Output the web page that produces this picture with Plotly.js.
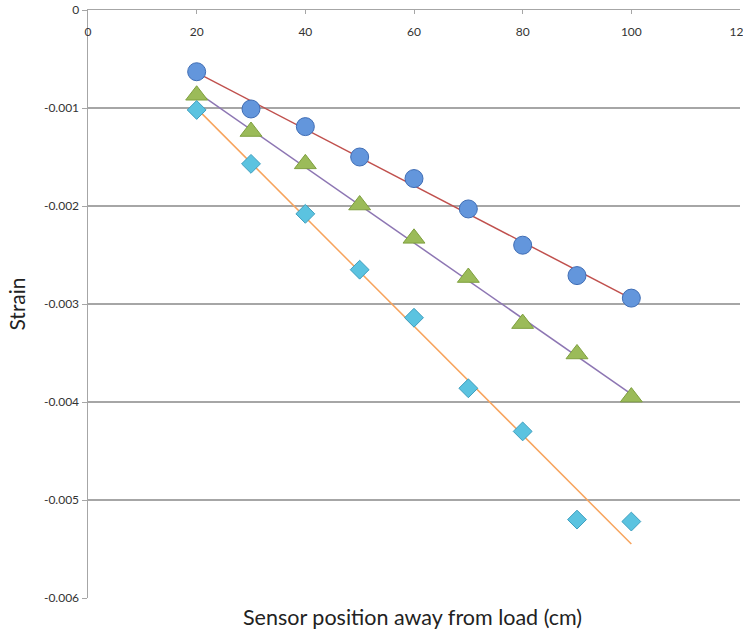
<!DOCTYPE html>
<html><head><meta charset="utf-8">
<script src="https://cdn.plot.ly/plotly-3.0.1.min.js"></script>
<style>html,body{margin:0;padding:0;background:#fff}#chart{width:743px;height:630px}</style>
</head><body><div id="chart"></div>
<script>
const positions = [20, 30, 40, 50, 60, 70, 80, 90, 100];
const strainCircle = [-0.00063, -0.00101, -0.00119, -0.00150, -0.00172, -0.00203, -0.00240, -0.00271, -0.00294];
const strainTriangle = [-0.00087, -0.00124, -0.00157, -0.00199, -0.00233, -0.00273, -0.00320, -0.00351, -0.00395];
const strainDiamond = [-0.00102, -0.00157, -0.00208, -0.00265, -0.00314, -0.00386, -0.00430, -0.00520, -0.00522];
const xTickVals = [0, 20, 40, 60, 80, 100, 120];
const yTickVals = [0, -0.001, -0.002, -0.003, -0.004, -0.005, -0.006];
const yTickText = ["0", "-0.001", "-0.002", "-0.003", "-0.004", "-0.005", "-0.006"];
const xTitle = "Sensor position away from load (cm)";
const yTitle = "Strain";

function fit(xs, ys) {
  const n = xs.length;
  const mx = xs.reduce((a, b) => a + b, 0) / n;
  const my = ys.reduce((a, b) => a + b, 0) / n;
  let sxy = 0, sxx = 0;
  for (let i = 0; i < n; i++) { sxy += (xs[i] - mx) * (ys[i] - my); sxx += (xs[i] - mx) ** 2; }
  const m = sxy / sxx, b = my - m * mx;
  const x0 = xs[0], x1 = xs[n - 1];
  return { x: [x0, x1], y: [m * x0 + b, m * x1 + b] };
}

const series = [
  { y: strainCircle, symbol: 'circle', fill: '#6396DC', edge: '#3F6DB5', size: 18, line: '#C0504D' },
  { y: strainTriangle, symbol: 'triangle-up', fill: '#9BBB59', edge: '#7FA03F', size: 19, line: '#8D76B3' },
  { y: strainDiamond, symbol: 'diamond', fill: '#5BC3E0', edge: '#3E9FBF', size: 14.5, line: '#F7A35C' }
];

const traces = [];
series.forEach(s => {
  const f = fit(positions, s.y);
  traces.push({ type: 'scatter', mode: 'lines', x: f.x, y: f.y, line: { color: s.line, width: 1.5 }, hoverinfo: 'skip', showlegend: false });
});
series.forEach(s => {
  traces.push({ type: 'scatter', mode: 'markers', x: positions, y: s.y,
    marker: { symbol: s.symbol, size: s.size, color: s.fill, line: { color: s.edge, width: 1 } }, showlegend: false });
});

const layout = {
  width: 743, height: 630,
  margin: { l: 88, r: 3, t: 10, b: 32 },
  paper_bgcolor: '#fff', plot_bgcolor: '#fff',
  font: { family: 'Lato, "Open Sans", sans-serif', color: '#222' },
  showlegend: false,
  xaxis: {
    range: [0, 120], side: 'top', tickvals: xTickVals, ticktext: xTickVals.map(String),
    ticks: 'inside', ticklen: 4, tickcolor: '#A6A6A6',
    ticklabelposition: 'inside', ticklabeloverflow: 'allow', ticklabelstandoff: 13,
    showline: true, linecolor: '#A6A6A6', linewidth: 1.5,
    showgrid: false, zeroline: false, tickfont: { size: 12, color: '#333' }
  },
  yaxis: {
    range: [-0.006, 0], tickvals: yTickVals, ticktext: yTickText,
    ticks: 'outside', ticklen: 5, tickcolor: '#A6A6A6',
    showline: true, linecolor: '#A6A6A6', linewidth: 1.5,
    showgrid: true, gridcolor: '#A6A6A6', gridwidth: 1.2, zeroline: false,
    tickfont: { size: 12, color: '#333' },
    title: { text: yTitle, font: { size: 21, color: '#222' }, standoff: 12 }
  },
  annotations: [{
    text: xTitle, xref: 'paper', yref: 'paper', x: 0.497, y: 0, yshift: -19,
    xanchor: 'center', yanchor: 'middle', showarrow: false,
    font: { size: 21.5, color: '#222' }
  }]
};

Plotly.newPlot('chart', traces, layout, { displayModeBar: false, staticPlot: true });
</script>
</body></html>
